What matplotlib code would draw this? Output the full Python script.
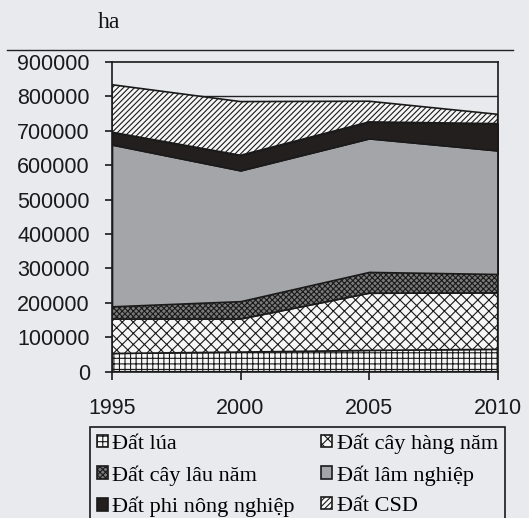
import numpy as np
import matplotlib
matplotlib.use("Agg")
import matplotlib.pyplot as plt

# data (ha)
years = [1995, 2000, 2005, 2010]
dat_lua = [53000, 57000, 62000, 65000]
cay_hang_nam = [100000, 96000, 166000, 164000]
cay_lau_nam = [37000, 52000, 62000, 55000]
lam_nghiep = [470000, 380000, 388000, 359000]
phi_nong_nghiep = [36000, 44000, 48000, 78000]
dat_csd = [138000, 156000, 60000, 27000]

labels = ["Đất lúa", "Đất cây hàng năm", "Đất cây lâu năm",
          "Đất lâm nghiệp", "Đất phi nông nghiệp", "Đất CSD"]
yticks = [0, 100000, 200000, 300000, 400000, 500000, 600000, 700000, 800000, 900000]

bg = "#e8eaee"
faces = ["#f6f6f6", "#f6f6f6", "#7a7a7a", "#a4a5a8", "#231f1f", "#f6f6f6"]
hatches = ["+++", "xxx", "xxxxxx", None, None, "//////"]

plt.rcParams["hatch.linewidth"] = 0.8
fig = plt.figure(figsize=(5.29, 5.18), dpi=100, facecolor=bg)
ax = fig.add_axes([0.2117, 0.2824, 0.7291, 0.5979])
ax.set_facecolor(bg)

ax.axhline(800000, color="#222222", lw=1, zorder=0)

polys = ax.stackplot(years, dat_lua, cay_hang_nam, cay_lau_nam, lam_nghiep,
                     phi_nong_nghiep, dat_csd, colors=faces,
                     edgecolor="#1a1a1a", linewidth=1.2, zorder=2)
for p, h in zip(polys, hatches):
    if h:
        p.set_hatch(h)

ax.set_xlim(1995, 2010)
ax.set_ylim(0, 900000)
ax.set_xticks(years)
ax.set_yticks(yticks)
ax.set_yticklabels([str(v) for v in yticks])
for s in ax.spines.values():
    s.set_color("#1a1a1a")
    s.set_linewidth(1.2)
ax.tick_params(axis="y", direction="out", length=5, width=1.2, pad=11,
               labelsize=15.5, colors="#1a1a1a")
ax.tick_params(axis="x", direction="out", length=6, width=1.2, pad=13,
               labelsize=15.5, colors="#1a1a1a")
for t in ax.get_xticklabels() + ax.get_yticklabels():
    t.set_fontfamily("Liberation Sans")

# unit label and header rule
fig.text(0.206, 0.946, "ha", family="Liberation Serif", fontsize=17,
         ha="center", va="baseline", color="#111111")
fig.add_artist(plt.Line2D([0.013, 0.97], [0.9035, 0.9035],
                          transform=fig.transFigure, color="#222222", lw=1))

order = [0, 2, 4, 1, 3, 5]
leg = fig.legend([polys[i] for i in order], [labels[i] for i in order],
                 ncol=2, loc="upper left", bbox_to_anchor=(0.17, 0.176),
                 prop={"family": "Liberation Serif", "size": 16},
                 frameon=True, fancybox=False, edgecolor="#1a1a1a",
                 facecolor=bg, framealpha=1, handlelength=0.5,
                 handleheight=0.5, handletextpad=0.2, columnspacing=1.2,
                 labelspacing=0.5, borderpad=0.3, borderaxespad=0)
leg.get_frame().set_linewidth(1.2)

fig.savefig("out.png", dpi=100, facecolor=bg)
